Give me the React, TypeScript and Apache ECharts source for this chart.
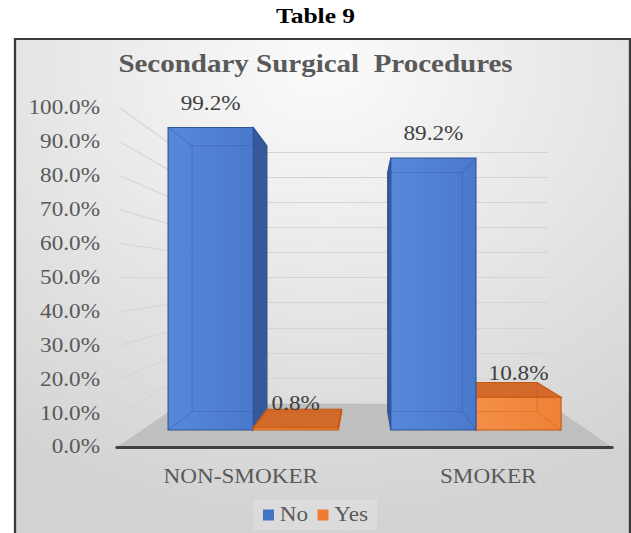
import React, { useEffect, useRef } from 'react';
import * as echarts from 'echarts';

// ---- data ----
const CATEGORIES = ['NON-SMOKER', 'SMOKER'];
const SERIES_NAMES = ['No', 'Yes'];
const NO_VALUES = [99.2, 89.2];
const YES_VALUES = [0.8, 10.8];
const Y_MIN = 0;
const Y_MAX = 100;
const Y_STEP = 10;
const PAGE_TITLE = 'Table 9';
const CHART_TITLE = 'Secondary Surgical  Procedures';

// ---- layout / style ----
const PAGE_W = 631;
const PAGE_H = 533;
const K = 1.16; // horizontal stretch of the original picture
const W = PAGE_W / K;
const sx = (x: number) => x / K;
const FONT = '"Liberation Serif", "Times New Roman", serif';

const VP = [365, 278];
const FRONT = { left: 117, right: 612, top: 108, bottom: 447 };
const plane = (s: number) => ({
  left: VP[0] + s * (FRONT.left - VP[0]),
  right: VP[0] + s * (FRONT.right - VP[0]),
  top: VP[1] + s * (FRONT.top - VP[1]),
  bottom: VP[1] + s * (FRONT.bottom - VP[1]),
});
const WALL = plane(0.74);
const BARS = plane(0.9);
const BAR_DEPTH = 0.79 / 0.9;
const BAR_FRAC = 0.382;

const gridOf = (p: any) => ({
  left: sx(p.left),
  right: W - sx(p.right),
  top: p.top,
  bottom: PAGE_H - p.bottom,
});

const PALETTE = [
  { legend: '#4472C4', front: ['#5888da', '#4a79cc'], side: '#36599a', top: '#3d63a8', edge: '#2f5597' },
  { legend: '#ED7D31', front: ['#f38e48', '#ee8236'], side: '#c55f1e', top: '#d26a2c', edge: '#c55a11' },
];

const renderBar = (params: any, api: any) => {
  const si = params.seriesIndex;
  const cat = api.value(0);
  const val = api.value(1);
  const top = api.coord([cat, val]);
  const bot = api.coord([cat, 0]);
  const cx = top[0];
  const yTop = top[1];
  const yBot = bot[1];
  const band = api.size([1, 0])[0];
  const bw = band * BAR_FRAC;
  const x0 = si === 0 ? cx - bw : cx;
  const x1 = x0 + bw;
  const vx = sx(VP[0]);
  const vy = VP[1];
  const bx = (x: number) => vx + BAR_DEPTH * (x - vx);
  const by = (y: number) => vy + BAR_DEPTH * (y - vy);
  const c = PALETTE[si];
  const base = -Math.round(Math.abs((x0 + x1) / 2 - vx)) * 10;
  const children: any[] = [];
  if (x1 < vx) {
    children.push({
      type: 'polygon',
      shape: { points: [[x1, yTop], [bx(x1), by(yTop)], [bx(x1), by(yBot)], [x1, yBot]] },
      style: { fill: c.side, stroke: c.edge, lineWidth: 1 },
      z2: base + 1,
    });
  } else if (x0 > vx) {
    children.push({
      type: 'polygon',
      shape: { points: [[x0, yTop], [bx(x0), by(yTop)], [bx(x0), by(yBot)], [x0, yBot]] },
      style: { fill: c.side, stroke: c.edge, lineWidth: 1 },
      z2: base + 1,
    });
  }
  if (yTop > vy) {
    children.push({
      type: 'polygon',
      shape: { points: [[x0, yTop], [x1, yTop], [bx(x1), by(yTop)], [bx(x0), by(yTop)]] },
      style: { fill: c.top, stroke: c.edge, lineWidth: 1 },
      z2: base + 2,
    });
  }
  children.push({
    type: 'rect',
    shape: { x: x0, y: yTop, width: bw, height: yBot - yTop },
    style: {
      fill: new echarts.graphic.LinearGradient(0, 0, 1, 0, [
        { offset: 0, color: c.front[0] },
        { offset: 1, color: c.front[1] },
      ]),
      stroke: c.edge,
      lineWidth: 1,
    },
    z2: base + 3,
  });
  const back = [[bx(x0), by(yTop)], [bx(x1), by(yTop)], [bx(x1), by(yBot)], [bx(x0), by(yBot)]];
  const frontPts = [[x0, yTop], [x1, yTop], [x1, yBot], [x0, yBot]];
  children.push({
    type: 'polygon',
    shape: { points: back },
    style: { fill: 'none', stroke: c.edge, lineWidth: 1, opacity: 0.35 },
    silent: true,
    z2: base + 4,
  });
  frontPts.forEach((p, i) => {
    children.push({
      type: 'line',
      shape: { x1: p[0], y1: p[1], x2: back[i][0], y2: back[i][1] },
      style: { stroke: c.edge, lineWidth: 1, opacity: 0.35 },
      silent: true,
      z2: base + 4,
    });
  });
  children.push({
    type: 'text',
    x: (x0 + x1) / 2,
    y: yTop - 24,
    style: {
      text: val.toFixed(1) + '%',
      fill: '#404040',
      font: `20px ${FONT}`,
      align: 'center',
      verticalAlign: 'middle',
    },
    z2: 100000,
  });
  return { type: 'group', children };
};

const App: React.FC = () => {
  const ref = useRef<HTMLDivElement>(null);
  useEffect(() => {
    if (!ref.current) return;
    const chart = echarts.init(ref.current, undefined, { renderer: 'svg' });
    const baseGraphics: any[] = [
      {
        id: 'bg',
        type: 'rect',
        z: -10,
        shape: { x: sx(15), y: 39, width: sx(630 - 15), height: 520 },
        style: {
          fill: new echarts.graphic.RadialGradient(0.5, 0.05, 0.9, [
            { offset: 0, color: '#fbfbfb' },
            { offset: 1, color: '#d2d2d2' },
          ]),
          stroke: '#3a3a3a',
          lineWidth: 2,
        },
        silent: true,
      },
      {
        id: 'floor',
        type: 'polygon',
        z: -5,
        shape: {
          points: [
            [sx(FRONT.left), FRONT.bottom],
            [sx(FRONT.right), FRONT.bottom],
            [sx(WALL.right), WALL.bottom],
            [sx(WALL.left), WALL.bottom],
          ],
        },
        style: { fill: '#bfbfbf' },
        silent: true,
      },
    ];
    const option: any = {
      animation: false,
      backgroundColor: '#ffffff',
      title: [
        {
          text: PAGE_TITLE,
          left: 'center',
          top: 0,
          textStyle: { fontSize: 22, fontWeight: 'bold', color: '#000000', fontFamily: FONT },
        },
        {
          text: CHART_TITLE,
          left: 'center',
          top: 46,
          textStyle: { fontSize: 25, fontWeight: 'bold', color: '#595959', fontFamily: FONT },
        },
      ],
      legend: {
        data: SERIES_NAMES,
        left: 'center',
        top: 500,
        icon: 'rect',
        itemWidth: 11 / K,
        itemHeight: 11,
        itemGap: 8,
        padding: [5, 8],
        backgroundColor: 'rgba(255,255,255,0.2)',
        textStyle: { fontSize: 20, color: '#595959', fontFamily: FONT },
      },
      grid: [gridOf(FRONT), gridOf(WALL), gridOf(BARS)],
      xAxis: [
        {
          gridIndex: 0,
          type: 'category',
          data: CATEGORIES,
          axisLine: { show: true, lineStyle: { color: '#404040', width: 3 } },
          axisTick: { show: false },
          splitLine: { show: false },
          axisLabel: { color: '#595959', fontSize: 20, fontFamily: FONT, margin: 20 },
        },
        { gridIndex: 1, type: 'category', data: CATEGORIES, show: false },
        { gridIndex: 2, type: 'category', data: CATEGORIES, show: false },
      ],
      yAxis: [
        {
          gridIndex: 0,
          type: 'value',
          min: Y_MIN,
          max: Y_MAX,
          interval: Y_STEP,
          axisLine: { show: false },
          axisTick: { show: false },
          splitLine: { show: false },
          axisLabel: {
            color: '#595959',
            fontSize: 20,
            fontFamily: FONT,
            margin: 17 / K,
            formatter: (v: number) => v.toFixed(1) + '%',
          },
        },
        {
          gridIndex: 1,
          type: 'value',
          min: Y_MIN,
          max: Y_MAX,
          interval: Y_STEP,
          axisLine: { show: false },
          axisTick: { show: false },
          axisLabel: { show: false },
          splitLine: { show: true, lineStyle: { color: '#d4d4d4', width: 1 } },
        },
        { gridIndex: 2, type: 'value', min: Y_MIN, max: Y_MAX, show: false },
      ],
      series: SERIES_NAMES.map((name, si) => ({
        type: 'custom',
        name,
        xAxisIndex: 2,
        yAxisIndex: 2,
        renderItem: renderBar,
        itemStyle: { color: PALETTE[si].legend, borderColor: PALETTE[si].edge },
        encode: { x: 0, y: 1 },
        data: (si === 0 ? NO_VALUES : YES_VALUES).map((v, i) => [i, v]),
      })),
      graphic: { elements: baseGraphics },
    };
    chart.setOption(option);

    const lines: any[] = [];
    for (let v = Y_MIN + Y_STEP; v <= Y_MAX; v += Y_STEP) {
      const y0 = chart.convertToPixel({ yAxisIndex: 0 } as any, v) as any as number;
      const y1 = chart.convertToPixel({ yAxisIndex: 1 } as any, v) as any as number;
      lines.push({
        id: 'side' + v,
        type: 'line',
        z: -4,
        shape: { x1: sx(FRONT.left + 3), y1: y0, x2: sx(WALL.left), y2: y1 },
        style: { stroke: '#d4d4d4', lineWidth: 1 },
        silent: true,
      });
    }
    chart.setOption({ graphic: { elements: [...baseGraphics, ...lines] } });

    return () => chart.dispose();
  }, []);

  return (
    <div
      style={{
        position: 'fixed',
        left: 0,
        top: 0,
        width: PAGE_W,
        height: PAGE_H,
        overflow: 'hidden',
        background: '#ffffff',
      }}
    >
      <div
        ref={ref}
        style={{
          width: W,
          height: PAGE_H,
          transform: `scaleX(${K})`,
          transformOrigin: '0 0',
        }}
      />
    </div>
  );
};

export default App;
